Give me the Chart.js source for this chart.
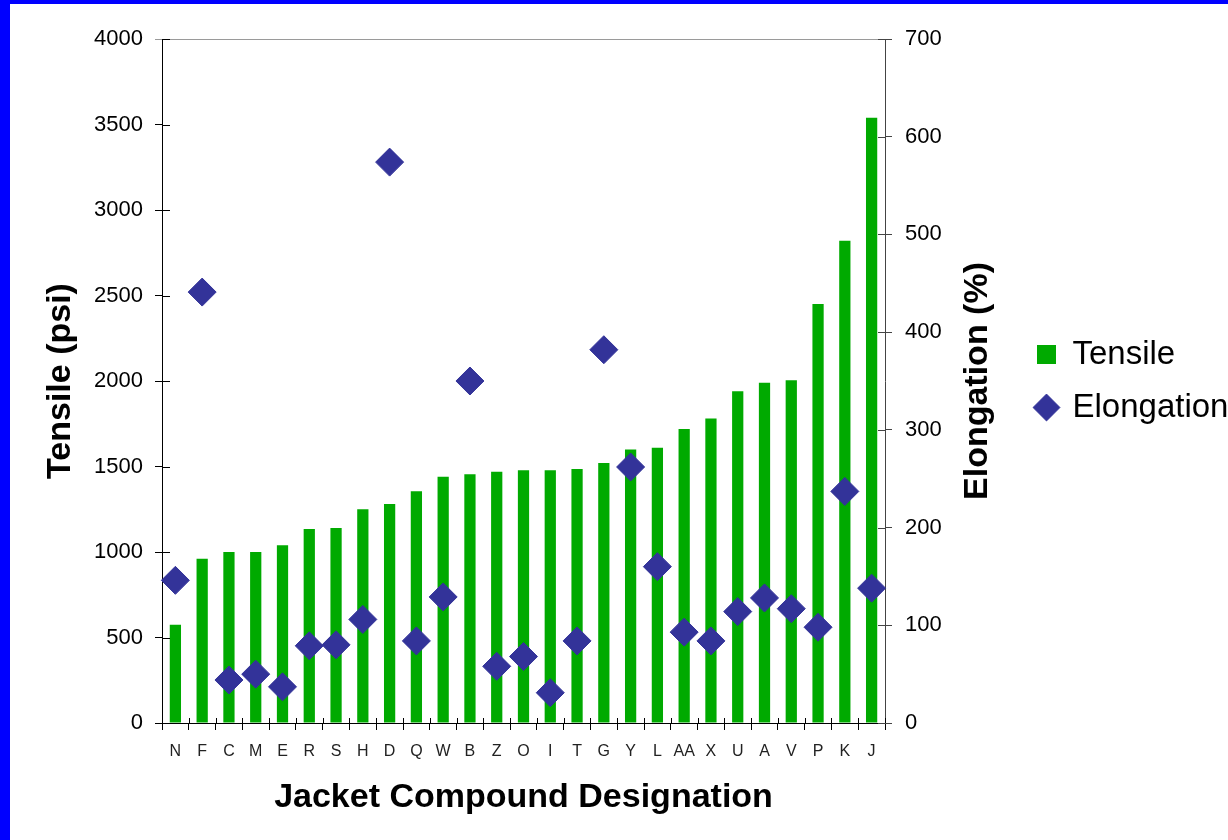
<!DOCTYPE html>
<html>
<head>
<meta charset="utf-8">
<title>Jacket Compounds</title>
<script src="https://cdn.jsdelivr.net/npm/chart.js@4.4.1/dist/chart.umd.min.js"></script>
<style>
  html, body { margin: 0; padding: 0; background: #fff; }
  .frame { width: 1218px; height: 836px; border-left: 10px solid #0000ff; border-top: 4px solid #0000ff; background: #fff; }
  canvas { display: block; }
</style>
</head>
<body>
<div class="frame"><canvas id="jacketChart" width="1218" height="836"></canvas></div>
<script>
const compounds = ['N','F','C','M','E','R','S','H','D','Q','W','B','Z','O','I','T','G','Y','L','AA','X','U','A','V','P','K','J']
const tensile = [575,960,1000,1000,1040,1135,1140,1250,1280,1355,1440,1455,1470,1478,1478,1485,1520,1600,1610,1720,1780,1940,1990,2005,2450,2820,3540]
const elongation = [146,441,44,50,37,79,80,106,574,84,129,350,58,68,31,84,382,262,160,93,84,114,128,117,98,237,138]
const tensileTicks = { min: 0, max: 4000, step: 500 }
const elongationTicks = { min: 0, max: 700, step: 100 }

const FONT = "'Liberation Sans', Arial, Helvetica, sans-serif"

// inner halves of the tick marks, the grey top edge and the right-hand title
const axisExtras = {
    id: 'axisExtras',
    afterDraw(chart) {
        const ctx = chart.ctx
        const { left, right, top, bottom } = chart.chartArea
        const y = chart.scales.y
        const y1 = chart.scales.y1
        const line = (x0, y0, x1, yy1) => {
            ctx.beginPath()
            ctx.moveTo(x0, y0)
            ctx.lineTo(x1, yy1)
            ctx.stroke()
        }
        ctx.save()
        ctx.lineWidth = 1
        ctx.strokeStyle = '#9a9a9a'
        line(left - 7, top + 0.5, right, top + 0.5)

        ctx.strokeStyle = '#000'
        y.ticks.forEach((t, i) => {
            const py = Math.round(y.getPixelForTick(i)) + 0.5
            line(left, py, left + 8, py)
        })
        ctx.strokeStyle = '#444'
        y1.ticks.forEach((t, i) => {
            const py = Math.round(y1.getPixelForTick(i)) + 0.5
            line(right - 7, py, right, py)
        })
        ctx.strokeStyle = '#000'
        const step = (right - left) / compounds.length
        for (let i = 0; i <= compounds.length; i++) {
            const px = Math.round(left + i * step) + 0.5
            line(px, bottom - 5, px, bottom)
        }

        ctx.fillStyle = '#000'
        ctx.font = `bold 34px ${FONT}`
        ctx.textAlign = 'center'
        ctx.textBaseline = 'middle'
        ctx.translate(y1.left + 93, (top + bottom) / 2)
        ctx.rotate(-Math.PI / 2)
        ctx.fillText('Elongation (%)', 0, 0)
        ctx.restore()
    }
}

const ctx = document.getElementById('jacketChart').getContext('2d')
new Chart(ctx, {
    data: {
        labels: compounds,
        datasets: [
            {
                type: 'bar',
                label: 'Tensile',
                data: tensile,
                yAxisID: 'y',
                backgroundColor: '#00aa00',
                borderWidth: 0,
                categoryPercentage: 1,
                barPercentage: 0.42,
                pointStyle: 'rect',
                order: 1
            },
            {
                type: 'line',
                label: 'Elongation',
                data: elongation,
                yAxisID: 'y1',
                showLine: false,
                pointStyle: 'rectRot',
                pointRadius: 14,
                pointHoverRadius: 14,
                pointBorderWidth: 1,
                pointBackgroundColor: '#333399',
                pointBorderColor: '#333399',
                backgroundColor: '#333399',
                borderColor: '#333399',
                order: 0
            }
        ]
    },
    options: {
        responsive: false,
        devicePixelRatio: 1,
        animation: false,
        events: [],
        layout: { padding: { top: 35, left: 0, right: 0, bottom: 0 } },
        plugins: {
            tooltip: { enabled: false },
            legend: {
                position: 'right',
                align: 'center',
                fullSize: false,
                maxWidth: 211,
                labels: {
                    usePointStyle: true,
                    boxWidth: 19,
                    boxHeight: 19,
                    padding: 20,
                    color: '#000',
                    font: { family: FONT, size: 33 },
                    sort: (a, b) => a.datasetIndex - b.datasetIndex
                }
            }
        },
        scales: {
            x: {
                offset: true,
                afterFit: scale => { scale.height = 117 },
                grid: { offset: true, drawOnChartArea: false, tickLength: 7, tickColor: '#000' },
                border: { color: '#000', width: 1 },
                ticks: { color: '#222', padding: 12, font: { family: FONT, size: 16 }, maxRotation: 0, autoSkip: false },
                title: {
                    display: true,
                    text: 'Jacket Compound Designation',
                    color: '#000',
                    font: { family: FONT, size: 34, weight: 'bold' },
                    padding: { top: 4, bottom: 22 }
                }
            },
            y: {
                position: 'left',
                min: tensileTicks.min,
                max: tensileTicks.max,
                afterFit: scale => { scale.width = 152 },
                grid: { drawOnChartArea: false, tickLength: 7, tickColor: '#000' },
                border: { color: '#000', width: 1 },
                ticks: {
                    stepSize: tensileTicks.step,
                    color: '#000',
                    padding: 12,
                    font: { family: FONT, size: 22 },
                    callback: v => String(v)
                },
                title: {
                    display: true,
                    text: 'Tensile (psi)',
                    color: '#000',
                    font: { family: FONT, size: 34, weight: 'bold' },
                    padding: { top: 30, bottom: 0 }
                }
            },
            y1: {
                position: 'right',
                min: elongationTicks.min,
                max: elongationTicks.max,
                afterFit: scale => { scale.width = 132 },
                grid: { drawOnChartArea: false, tickLength: 7, tickColor: '#444' },
                border: { color: '#444', width: 1 },
                ticks: { stepSize: elongationTicks.step, color: '#000', padding: 13, font: { family: FONT, size: 22 } }
            }
        }
    },
    plugins: [axisExtras]
})
</script>
</body>
</html>
